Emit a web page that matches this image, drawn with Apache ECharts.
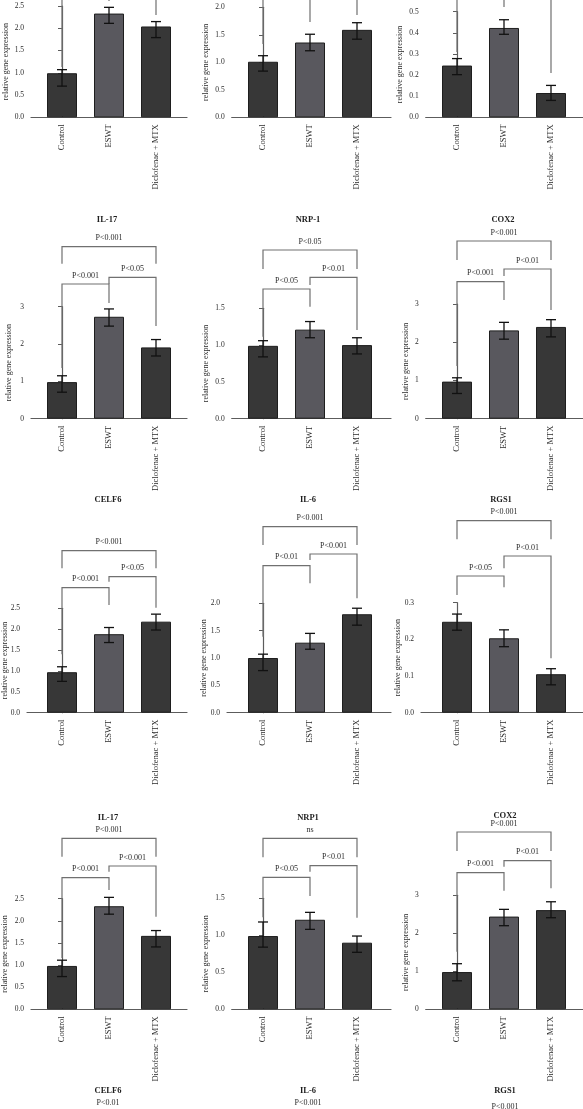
<!DOCTYPE html>
<html>
<head>
<meta charset="utf-8">
<script src="https://cdn.jsdelivr.net/npm/echarts@6/dist/echarts.min.js"></script>
<style>
  html, body { margin: 0; padding: 0; background: #fff; }
  #chart { width: 583px; height: 1109px; }
</style>
</head>
<body>
<div id="chart"></div>
<script>
var groups = ['Control', 'ESWT', 'Diclofenac + MTX']

// row 1 (titles cut off above the picture)
var celf6aMean = [0.99, 2.33, 2.04]
var celf6aLow = [0.70, 2.11, 1.79]
var celf6aHigh = [1.07, 2.47, 2.15]
var il6aMean = [1.01, 1.36, 1.59]
var il6aLow = [0.84, 1.21, 1.42]
var il6aHigh = [1.12, 1.51, 1.72]
var rgs1aMean = [0.245, 0.423, 0.115]
var rgs1aLow = [0.202, 0.393, 0.080]
var rgs1aHigh = [0.278, 0.462, 0.151]

// row 2
var il17aMean = [0.98, 2.73, 1.91]
var il17aLow = [0.71, 2.48, 1.68]
var il17aHigh = [1.15, 2.94, 2.12]
var il17aP = ['P<0.001', 'P<0.05', 'P<0.001']
var nrp1aMean = [0.99, 1.21, 1.00]
var nrp1aLow = [0.84, 1.10, 0.88]
var nrp1aHigh = [1.06, 1.32, 1.10]
var nrp1aP = ['P<0.05', 'P<0.01', 'P<0.05']
var cox2aMean = [0.97, 2.31, 2.40]
var cox2aLow = [0.66, 2.08, 2.14]
var cox2aHigh = [1.07, 2.52, 2.59]
var cox2aP = ['P<0.001', 'P<0.01', 'P<0.001']

// row 3
var celf6bMean = [0.97, 1.88, 2.18]
var celf6bLow = [0.75, 1.68, 1.98]
var celf6bHigh = [1.10, 2.04, 2.36]
var celf6bP = ['P<0.001', 'P<0.05', 'P<0.001']
var il6bMean = [1.00, 1.28, 1.80]
var il6bLow = [0.77, 1.16, 1.60]
var il6bHigh = [1.07, 1.45, 1.91]
var il6bP = ['P<0.001', 'P<0.001', 'P<0.01']
var rgs1bMean = [0.248, 0.203, 0.105]
var rgs1bLow = [0.225, 0.180, 0.076]
var rgs1bHigh = [0.269, 0.226, 0.120]
var rgs1bP = ['P<0.001', 'P<0.01', 'P<0.05']

// row 4
var il17bMean = [0.98, 2.33, 1.66]
var il17bLow = [0.74, 2.15, 1.41]
var il17bHigh = [1.11, 2.53, 1.78]
var il17bP = ['P<0.001', 'P<0.001', 'P<0.001']
var nrp1bMean = [0.99, 1.21, 0.90]
var nrp1bLow = [0.84, 1.08, 0.77]
var nrp1bHigh = [1.18, 1.31, 0.99]
var nrp1bP = ['ns', 'P<0.01', 'P<0.05']
var cox2bMean = [0.98, 2.44, 2.61]
var cox2bLow = [0.75, 2.20, 2.41]
var cox2bHigh = [1.20, 2.63, 2.83]
var cox2bP = ['P<0.001', 'P<0.01', 'P<0.001']

// row 5 (only the titles are left in the picture)
var lastTitles = ['CELF6', 'IL-6', 'RGS1']
var lastP = ['P<0.01', 'P<0.001', 'P<0.001']

var FONT = 'Liberation Serif'
var AXIS_COLOR = '#5c5c5c'
var BRACKET_COLOR = '#707070'
var barColors = ['#373737', '#59585e', '#373737']

// brackets: outer (0-2), right (1-2), left (0-1)
var pairs = [[0, 2], [1, 2], [0, 1]]

// frame: [yAxis x, axis end x, y of 0, y of max, nameGap]
// levels: per bracket [line y, left leg end y, right leg end y]
var panels = [
  { mean: celf6aMean, low: celf6aLow, high: celf6aHigh, p: ['', '', ''], yMax: 2.5, step: 0.5, digits: 1,
    frame: [31, 187, 117.3, 6, 21], c0: 62,
    levels: [[-40, -25, -25], [-20, -12, 15], [-10, 67, 1]] },
  { mean: il6aMean, low: il6aLow, high: il6aHigh, p: ['', '', ''], yMax: 2.0, step: 0.5, digits: 1,
    frame: [231.7, 391, 117.3, 7.3, 22], c0: 263,
    levels: [[-40, -25, -25], [-20, -12, 15], [-10, 44, 22]] },
  { mean: rgs1aMean, low: rgs1aLow, high: rgs1aHigh, p: ['', '', ''], yMax: 0.5, step: 0.1, digits: 1,
    frame: [425.7, 583, 117.3, 11.7, 22], c0: 457,
    levels: [[-40, -25, -25], [-20, -12, 73], [-10, 52, 7]] },

  { title: 'IL-17', tx: 107, ty: 220, mean: il17aMean, low: il17aLow, high: il17aHigh, p: il17aP, yMax: 3, step: 1, digits: 0,
    frame: [31, 187, 418.7, 306.7, 18], c0: 62,
    levels: [[246.7, 263.7, 263.7], [277.3, 284, 326], [284, 368, 303]] },
  { title: 'NRP-1', tx: 308, ty: 220, mean: nrp1aMean, low: nrp1aLow, high: nrp1aHigh, p: nrp1aP, yMax: 1.5, step: 0.5, digits: 1,
    frame: [231.7, 391, 418.7, 308.3, 22], c0: 263,
    levels: [[250, 269, 269], [277.3, 285, 330], [289, 336.7, 306.7]] },
  { title: 'COX2', tx: 503, ty: 220, mean: cox2aMean, low: cox2aLow, high: cox2aHigh, p: cox2aP, yMax: 3, step: 1, digits: 0,
    frame: [425.7, 583, 418.7, 304, 16], c0: 457,
    levels: [[241, 260, 260], [269, 276, 310], [281.7, 366, 300]] },

  { title: 'CELF6', tx: 108, ty: 499.3, mean: celf6bMean, low: celf6bLow, high: celf6bHigh, p: celf6bP, yMax: 2.5, step: 0.5, digits: 1,
    frame: [27, 187, 712.7, 608.3, 18], c0: 62,
    levels: [[550.7, 568.3, 568.3], [576.7, 581.7, 607.7], [587.7, 654.3, 605]] },
  { title: 'IL-6', tx: 308, ty: 500, mean: il6bMean, low: il6bLow, high: il6bHigh, p: il6bP, yMax: 2.0, step: 0.5, digits: 1,
    frame: [227, 391, 712.7, 603.3, 19.5], c0: 263,
    levels: [[526.7, 545, 545], [554, 560, 598.3], [565.7, 636.7, 583.3]] },
  { title: 'RGS1', tx: 501, ty: 500, mean: rgs1bMean, low: rgs1bLow, high: rgs1bHigh, p: rgs1bP, yMax: 0.3, step: 0.1, digits: 1,
    frame: [421, 583, 712.7, 602.7, 19], c0: 457,
    levels: [[520.7, 539.3, 539.3], [556, 568.3, 658.3], [576, 595, 587.3]] },

  { title: 'IL-17', tx: 108, ty: 817.7, mean: il17bMean, low: il17bLow, high: il17bHigh, p: il17bP, yMax: 2.5, step: 0.5, digits: 1,
    frame: [31, 187, 1009.3, 898.7, 22], c0: 62,
    levels: [[838.3, 856.7, 856.7], [866, 871.7, 916.7], [877.7, 958, 890]] },
  { title: 'NRP1', tx: 308, ty: 817.7, mean: nrp1bMean, low: nrp1bLow, high: nrp1bHigh, p: nrp1bP, yMax: 1.5, step: 0.5, digits: 1,
    frame: [231.7, 391, 1009.3, 898.3, 22], c0: 263,
    levels: [[838.3, 857.3, 857.3], [865.7, 871.7, 917.7], [877.3, 917.3, 896]] },
  { title: 'COX2', tx: 505, ty: 815.5, mean: cox2bMean, low: cox2bLow, high: cox2bHigh, p: cox2bP, yMax: 3, step: 1, digits: 0,
    frame: [425.7, 583, 1009.3, 895.3, 16], c0: 457,
    levels: [[832, 851, 851], [860.7, 866.7, 888.3], [872.7, 951.7, 890.7]] }
]

var lastPos = [[108, 1091, 1103.3], [308, 1091, 1102.7], [505, 1091, 1106.7]]
var STEP_PX = 47

var grids = []
var xAxes = []
var yAxes = []
var series = []
var graphics = []

panels.forEach(function(pn, k) {
  var f = pn.frame
  var xMin = -(pn.c0 - f[0]) / STEP_PX
  var xMax = 2 + (f[1] - (pn.c0 + 2 * STEP_PX)) / STEP_PX
  grids.push({
    left: f[0],
    top: f[3],
    width: f[1] - f[0],
    height: f[2] - f[3],
    outerBoundsMode: 'none'
  })
  xAxes.push({
    type: 'value',
    gridIndex: k,
    min: xMin,
    max: xMax,
    splitLine: { show: false },
    axisLine: { lineStyle: { color: AXIS_COLOR, width: 1.2 }},
    axisTick: { show: false },
    axisLabel: {
      customValues: [0, 1, 2],
      rotate: 90,
      margin: 7,
      fontFamily: FONT,
      fontSize: 8.5,
      color: '#2b2b2b',
      formatter: function(v) { return groups[Math.round(v)] }
    }
  })
  yAxes.push({
    type: 'value',
    gridIndex: k,
    min: 0,
    max: pn.yMax,
    interval: pn.step,
    name: 'relative gene expression',
    nameLocation: 'middle',
    nameGap: f[4],
    nameMoveOverlap: false,
    nameTextStyle: { fontFamily: FONT, fontSize: 8, color: '#2b2b2b' },
    splitLine: { show: false },
    axisLine: { show: true, lineStyle: { color: AXIS_COLOR, width: 1.2 }},
    axisTick: { show: true, length: 4, lineStyle: { color: AXIS_COLOR, width: 1 }},
    axisLabel: {
      margin: 7,
      fontFamily: FONT,
      fontSize: 7.5,
      color: '#2b2b2b',
      formatter: function(v) { return v.toFixed(pn.digits) }
    }
  })

  series.push({
    type: 'bar',
    xAxisIndex: k,
    yAxisIndex: k,
    barWidth: 30,
    silent: true,
    data: pn.mean.map(function(m, i) {
      return { value: [i, m], itemStyle: { color: barColors[i] }}
    }),
    itemStyle: { borderColor: '#1e1e1e', borderWidth: 1 }
  })

  // error bars
  series.push({
    type: 'custom',
    xAxisIndex: k,
    yAxisIndex: k,
    silent: true,
    z: 5,
    data: pn.mean.map(function(m, i) { return [i, pn.low[i], pn.high[i]] }),
    encode: { x: 0, y: [1, 2] },
    renderItem: function(params, api) {
      var lo = api.coord([api.value(0), api.value(1)])
      var hi = api.coord([api.value(0), api.value(2)])
      var st = { stroke: '#111', lineWidth: 1.3 }
      return {
        type: 'group',
        children: [
          { type: 'line', shape: { x1: lo[0], y1: lo[1], x2: hi[0], y2: hi[1] }, style: st },
          { type: 'line', shape: { x1: hi[0] - 5, y1: hi[1], x2: hi[0] + 5, y2: hi[1] }, style: st },
          { type: 'line', shape: { x1: lo[0] - 5, y1: lo[1], x2: lo[0] + 5, y2: lo[1] }, style: st }
        ]
      }
    }
  })

  // significance brackets
  series.push({
    type: 'custom',
    xAxisIndex: k,
    yAxisIndex: k,
    silent: true,
    clip: false,
    z: 4,
    data: pairs.map(function(pr) { return [pr[0], 0] }),
    renderItem: function(params, api) {
      var pr = pairs[params.dataIndex]
      var lv = pn.levels[params.dataIndex]
      var xa = api.coord([pr[0], 0])[0]
      var xb = api.coord([pr[1], 0])[0]
      return {
        type: 'group',
        children: [
          {
            type: 'polyline',
            shape: { points: [[xa, lv[1]], [xa, lv[0]], [xb, lv[0]], [xb, lv[2]]] },
            style: { stroke: BRACKET_COLOR, lineWidth: 1.2, fill: null }
          },
          {
            type: 'text',
            x: (xa + xb) / 2,
            y: lv[0] - 8.3,
            style: {
              text: pn.p[params.dataIndex],
              fill: '#2b2b2b',
              font: '8px "' + FONT + '"',
              align: 'center',
              verticalAlign: 'middle'
            }
          }
        ]
      }
    }
  })

  if (pn.title) {
    graphics.push({
      type: 'text',
      x: pn.tx,
      y: pn.ty,
      style: {
        text: pn.title,
        fill: '#1e1e1e',
        font: 'bold 8.5px "' + FONT + '"',
        align: 'center',
        verticalAlign: 'middle'
      }
    })
  }
})

lastTitles.forEach(function(t, i) {
  graphics.push({
    type: 'text', x: lastPos[i][0], y: lastPos[i][1],
    style: { text: t, fill: '#1e1e1e', font: 'bold 8.5px "' + FONT + '"', align: 'center', verticalAlign: 'middle' }
  })
  graphics.push({
    type: 'text', x: lastPos[i][0], y: lastPos[i][2],
    style: { text: lastP[i], fill: '#2b2b2b', font: '8px "' + FONT + '"', align: 'center', verticalAlign: 'middle' }
  })
})

var chart = echarts.init(document.getElementById('chart'), null, { renderer: 'canvas' })
chart.setOption({
  backgroundColor: '#ffffff',
  animation: false,
  grid: grids,
  xAxis: xAxes,
  yAxis: yAxes,
  series: series,
  graphic: graphics
})
</script>
</body>
</html>
